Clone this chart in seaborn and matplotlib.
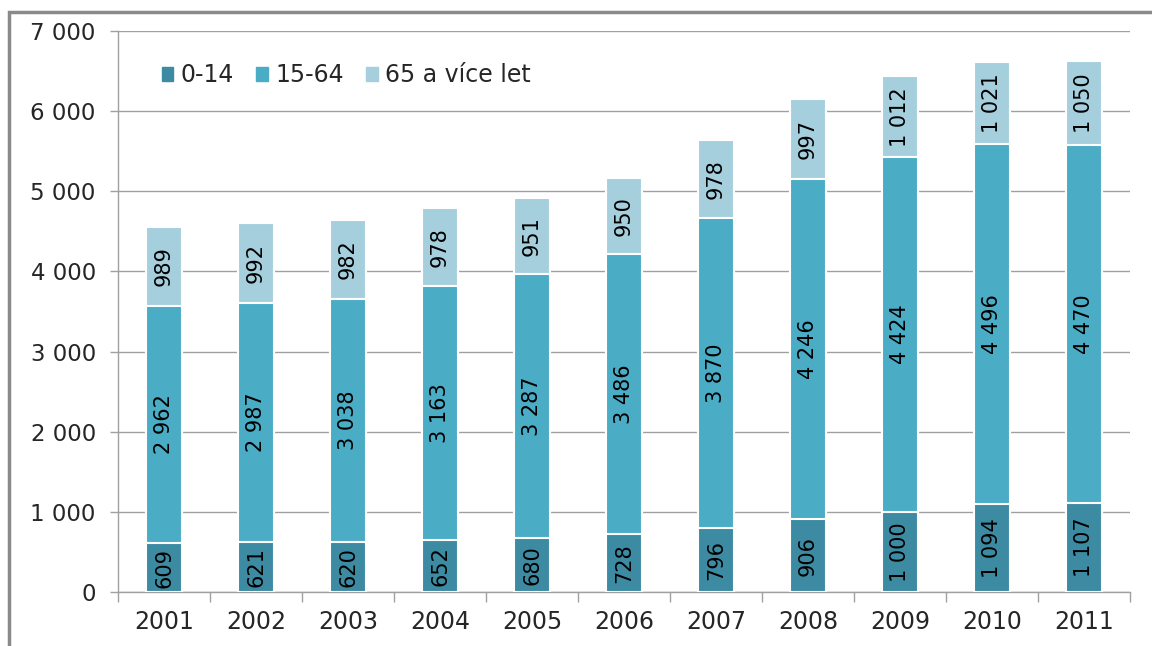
import numpy as np
import pandas as pd
import matplotlib
matplotlib.use('Agg')
import matplotlib.pyplot as plt
import seaborn as sns
from matplotlib.patches import Rectangle
from matplotlib.ticker import FuncFormatter, FixedLocator

years = ['2001', '2002', '2003', '2004', '2005', '2006', '2007', '2008', '2009', '2010', '2011']
age_0_14 = [609, 621, 620, 652, 680, 728, 796, 906, 1000, 1094, 1107]
age_15_64 = [2962, 2987, 3038, 3163, 3287, 3486, 3870, 4246, 4424, 4496, 4470]
age_65 = [989, 992, 982, 978, 951, 950, 978, 997, 1012, 1021, 1050]
labels = ['0-14', '15-64', '65 a více let']
colors = ['#3d8ba2', '#4bacc6', '#a6cfde']

df = pd.DataFrame({'year': years, 'a': age_0_14, 'b': age_15_64, 'c': age_65})
df['cum_a'] = df['a']
df['cum_b'] = df['a'] + df['b']
df['cum_c'] = df['a'] + df['b'] + df['c']

sns.set_style('white')
plt.rcParams['font.family'] = ['DejaVu Sans']

fig = plt.figure(figsize=(11.52, 6.46), dpi=100)
ax = fig.add_axes([118/1152, 54/646, 1012/1152, 561/646])

# stacked bars: draw the cumulative totals from the top down
for col, c in zip(['cum_c', 'cum_b', 'cum_a'], colors[::-1]):
    sns.barplot(data=df, x='year', y=col, color=c, width=0.4, edgecolor='white',
                linewidth=1.5, saturation=1, ax=ax, zorder=3)

def fmt(v):
    return f'{int(v):,}'.replace(',', ' ')

bottoms = np.zeros(len(years))
for vals in [age_0_14, age_15_64, age_65]:
    for i, v in enumerate(vals):
        ax.text(i, bottoms[i] + v / 2, fmt(v), rotation=90, ha='center', va='center',
                fontsize=15, color='black', zorder=4)
    bottoms = bottoms + np.array(vals)

ax.set_ylim(0, 7000)
ax.set_xlim(-0.5, len(years) - 0.5)
ax.set_yticks(range(0, 7001, 1000))
ax.yaxis.set_major_formatter(FuncFormatter(lambda v, p: fmt(v)))
ax.set_xlabel('')
ax.set_ylabel('')

ax.grid(axis='y', color='#a0a0a0', linewidth=1, zorder=0)
ax.set_axisbelow(True)
for s in ['top', 'right']:
    ax.spines[s].set_visible(False)
for s in ['left', 'bottom']:
    ax.spines[s].set_color('#a0a0a0')
    ax.spines[s].set_linewidth(1)

ax.tick_params(axis='y', which='major', length=6, color='#a0a0a0', width=1,
               labelsize=16.5, pad=10, left=True)
ax.tick_params(axis='x', which='major', length=0, labelsize=17, pad=13)
ax.xaxis.set_minor_locator(FixedLocator(np.arange(-0.5, len(years), 1.0)))
ax.tick_params(axis='x', which='minor', length=7, color='#a0a0a0', width=1, bottom=True)

handles = [Rectangle((0, 0), 1, 1, color=c) for c in colors]
ax.legend(handles, labels, loc='upper left', bbox_to_anchor=(0.022, 0.98), ncol=3,
          frameon=False, fontsize=17, handlelength=0.5, handleheight=0.5,
          handletextpad=0.3, columnspacing=0.95)

fig.add_artist(Rectangle((9/1152, -0.1), 1.2, (646 - 12)/646 + 0.1, fill=False,
                         edgecolor='#8a8a8a', linewidth=2.5, transform=fig.transFigure,
                         clip_on=False))

fig.savefig('out.png', dpi=100)
